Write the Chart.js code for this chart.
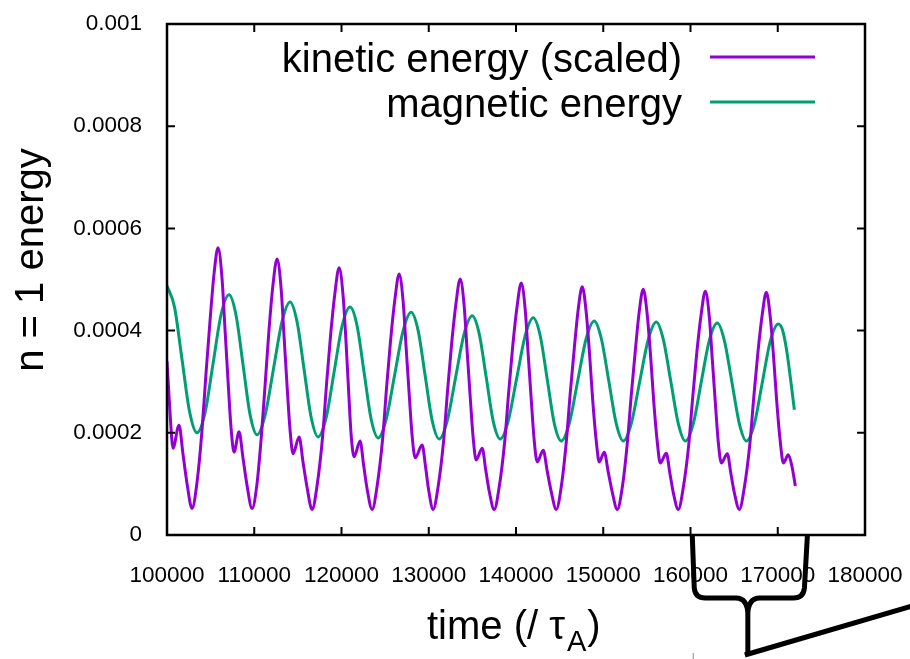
<!DOCTYPE html>
<html>
<head>
<meta charset="utf-8">
<script src="https://cdn.jsdelivr.net/npm/chart.js@4.4.1/dist/chart.umd.min.js"></script>
<style>
  html, body { margin: 0; padding: 0; background: #fff; }
  #wrap { width: 910px; height: 659px; position: relative; }
</style>
</head>
<body>
<div id="wrap"><canvas id="energyChart"></canvas></div>
<script>
// values (time in tau_A, energy)
const kineticTime = [
  100000, 100344, 100688, 101376, 101835, 102294, 102867,
  103440, 104014, 104473, 104931, 105390, 105849,
  106307, 106651, 106995, 107340, 107684, 108257, 108716, 109174, 109748,
  110321, 110837, 111296, 111697, 112156, 112615,
  113075, 113418, 113762, 114106, 114450, 115138, 115596, 116055, 116629,
  117202, 117833, 118291, 118750, 119266, 119725,
  120184, 120528, 120815, 121101, 121445, 122133, 122535, 122936, 123509,
  124083, 124714, 125172, 125631, 126147, 126606,
  127064, 127408, 127753, 128097, 128441, 129243, 129645, 129989, 130505,
  131078, 131709, 132168, 132626, 133142, 133601,
  134060, 134404, 134748, 135092, 135436, 136124, 136525, 136927, 137500,
  138074, 138705, 139163, 139622, 140138, 140597,
  141055, 141399, 141744, 142088, 142432, 143120, 143579, 144037, 144611,
  145184, 145757, 146216, 146675, 147133, 147592,
  148051, 148452, 148796, 149198, 149542, 150115, 150574, 151033, 151606,
  152179, 152753, 153212, 153670, 154129, 154588,
  155046, 155448, 155792, 156193, 156537, 157225, 157627, 158028, 158602,
  159175, 159806, 160265, 160723, 161239, 161698,
  162157, 162501, 162845, 163189, 163533, 164221, 164622, 165024, 165597,
  166170, 166801, 167260, 167719, 168235, 168694,
  169152, 169554, 169898, 170299, 170643, 171216, 171618, 172019
];
const kineticEnergy = [
  0.00034, 0.00024, 0.00017, 0.000215, 0.000158, 0.000101, 0.000052,
  0.000103, 0.000205, 0.000317, 0.000419, 0.000511, 0.000562,
  0.000502, 0.000402, 0.000302, 0.00021, 0.000162, 0.000202, 0.00015, 0.000097, 0.000052,
  0.000101, 0.000198, 0.000306, 0.000403, 0.000491, 0.00054,
  0.000483, 0.000388, 0.000292, 0.000205, 0.000159, 0.000192, 0.000142, 0.000093, 0.00005,
  0.000097, 0.000192, 0.000296, 0.000391, 0.000476, 0.000523,
  0.000468, 0.000375, 0.000283, 0.000197, 0.000153, 0.000184, 0.000137, 0.00009, 0.00005,
  0.000096, 0.000188, 0.00029, 0.000382, 0.000465, 0.000511,
  0.000457, 0.000367, 0.000277, 0.000194, 0.000151, 0.000176, 0.000132, 0.000088, 0.00005,
  0.000095, 0.000185, 0.000285, 0.000375, 0.000456, 0.000501,
  0.000448, 0.000359, 0.000271, 0.00019, 0.000147, 0.00017, 0.000128, 0.000086, 0.00005,
  0.000094, 0.000183, 0.00028, 0.000369, 0.000449, 0.000493,
  0.000441, 0.000353, 0.000266, 0.000185, 0.000143, 0.000166, 0.000125, 0.000085, 0.00005,
  0.000094, 0.000181, 0.000277, 0.000364, 0.000442, 0.000486,
  0.000435, 0.000349, 0.000263, 0.000184, 0.000143, 0.000162, 0.000123, 0.000084, 0.00005,
  0.000093, 0.000179, 0.000274, 0.00036, 0.000438, 0.000481,
  0.00043, 0.000345, 0.00026, 0.000182, 0.000141, 0.00016, 0.000122, 0.000083, 0.00005,
  0.000093, 0.000178, 0.000272, 0.000357, 0.000434, 0.000477,
  0.000427, 0.000343, 0.000259, 0.000181, 0.000141, 0.000159, 0.000121, 0.000083, 0.00005,
  0.000093, 0.000178, 0.000271, 0.000356, 0.000433, 0.000475,
  0.000425, 0.000341, 0.000258, 0.000181, 0.000141, 0.000157, 0.000135, 0.000096
];
const magneticTime = [
  100000, 100860, 101720, 102580, 103440, 104358, 105275, 106193, 107110,
  107913, 108716, 109518, 110321, 111239, 112213, 113188, 114106,
  114908, 115711, 116514, 117317, 118234, 119152, 120069, 120986,
  121789, 122592, 123395, 124197, 125115, 126090, 127064, 127982,
  128785, 129587, 130390, 131193, 132110, 133085, 134060, 134977,
  135780, 136583, 137386, 138188, 139106, 140081, 141055, 141973,
  142776, 143578, 144381, 145184, 146101, 147076, 148051, 148968,
  149771, 150631, 151491, 152294, 153212, 154186, 155161, 156079,
  156881, 157741, 158601, 159404, 160322, 161239, 162157, 163074,
  163877, 164737, 165597, 166400, 167317, 168235, 169152, 170069,
  170528, 170987, 171446, 171904
];
const magneticEnergy = [
  0.000488, 0.000446, 0.000344, 0.000242, 0.0002, 0.000239, 0.000335, 0.000431, 0.00047,
  0.00043, 0.000333, 0.000236, 0.000196, 0.000234, 0.000326, 0.000418, 0.000456,
  0.000417, 0.000324, 0.000231, 0.000192, 0.000229, 0.000319, 0.000409, 0.000446,
  0.000409, 0.000318, 0.000227, 0.00019, 0.000226, 0.000313, 0.0004, 0.000436,
  0.0004, 0.000312, 0.000224, 0.000188, 0.000223, 0.000309, 0.000394, 0.000429,
  0.000394, 0.000309, 0.000223, 0.000188, 0.000223, 0.000307, 0.00039, 0.000425,
  0.00039, 0.000305, 0.000219, 0.000184, 0.000218, 0.000302, 0.000385, 0.000419,
  0.000385, 0.000302, 0.000218, 0.000184, 0.000218, 0.000301, 0.000383, 0.000417,
  0.000383, 0.000301, 0.000218, 0.000184, 0.000218, 0.0003, 0.000381, 0.000415,
  0.000381, 0.0003, 0.000218, 0.000184, 0.000217, 0.000299, 0.00038, 0.000413,
  0.000402, 0.000365, 0.000308, 0.000245
];
const seriesNames = ["kinetic energy (scaled)", "magnetic energy"];
const xTickLabels = ["100000", "110000", "120000", "130000", "140000", "150000", "160000", "170000", "180000"];
const yTickLabels = ["0", "0.0002", "0.0004", "0.0006", "0.0008", "0.001"];
// span marked by the bracket under the axis
const bracketSpan = [160200, 173400];

const FONT = "'Liberation Sans', Arial, Helvetica, sans-serif";
Chart.defaults.font.family = FONT;
Chart.defaults.color = "#000";

function toPoints(xs, ys) {
  return xs.map((x, i) => ({ x: x, y: ys[i] }));
}

// box, inward ticks, legend, axis titles and the bracket
const decorations = {
  id: 'decorations',
  afterDatasetsDraw(chart) {
    const ctx = chart.ctx;
    const a = chart.chartArea;
    const xs = chart.scales.x, ys = chart.scales.y;
    ctx.save();
    ctx.strokeStyle = '#000';
    ctx.lineWidth = 2.5;
    ctx.strokeRect(a.left, a.top, a.right - a.left, a.bottom - a.top);
    ctx.lineWidth = 2;
    ctx.beginPath();
    xs.ticks.forEach(t => {
      const px = xs.getPixelForValue(t.value);
      ctx.moveTo(px, a.bottom); ctx.lineTo(px, a.bottom - 8);
      ctx.moveTo(px, a.top); ctx.lineTo(px, a.top + 8);
    });
    ys.ticks.forEach(t => {
      const py = ys.getPixelForValue(t.value);
      ctx.moveTo(a.left, py); ctx.lineTo(a.left + 8, py);
      ctx.moveTo(a.right, py); ctx.lineTo(a.right - 8, py);
    });
    ctx.stroke();

    // legend
    ctx.font = '40px ' + FONT;
    ctx.textAlign = 'right';
    ctx.textBaseline = 'alphabetic';
    chart.data.datasets.forEach((ds, i) => {
      const lineY = 57 + i * 45;
      ctx.fillStyle = '#000';
      ctx.fillText(ds.label, a.right - 183, lineY + 15);
      ctx.strokeStyle = ds.borderColor;
      ctx.lineWidth = ds.borderWidth;
      ctx.beginPath();
      ctx.moveTo(a.right - 155, lineY);
      ctx.lineTo(a.right - 50, lineY);
      ctx.stroke();
    });

    // y title
    ctx.fillStyle = '#000';
    ctx.save();
    ctx.translate(43, 260);
    ctx.rotate(-Math.PI / 2);
    ctx.textAlign = 'center';
    ctx.font = '40px ' + FONT;
    ctx.fillText('n = 1 energy', 0, 0);
    ctx.restore();

    // x title with subscript
    ctx.textAlign = 'left';
    let tx = 427;
    const base = 639;
    ctx.font = '40px ' + FONT;
    ctx.fillText('time (/ \u03c4', tx, base);
    tx += ctx.measureText('time (/ \u03c4').width + 2;
    ctx.font = '29px ' + FONT;
    ctx.fillText('A', tx, base + 12);
    tx += ctx.measureText('A').width + 1;
    ctx.font = '40px ' + FONT;
    ctx.fillText(')', tx, base);

    // bracket
    const xL = xs.getPixelForValue(bracketSpan[0]);
    const xR = xs.getPixelForValue(bracketSpan[1]);
    const xM = (xL + xR) / 2 - 2;
    const yH = 598, yTip = 655;
    ctx.strokeStyle = '#000';
    ctx.lineWidth = 5;
    ctx.lineJoin = 'round';
    ctx.lineCap = 'butt';
    ctx.beginPath();
    ctx.moveTo(xL, a.bottom);
    ctx.lineTo(xL + 2, yH - 10);
    ctx.quadraticCurveTo(xL + 3, yH, xL + 13, yH);
    ctx.lineTo(xM - 12, yH);
    ctx.quadraticCurveTo(xM, yH, xM, yH + 17);
    ctx.lineTo(xM, yTip);
    ctx.moveTo(xR, a.bottom);
    ctx.lineTo(xR - 3, yH - 10);
    ctx.quadraticCurveTo(xR - 4, yH, xR - 14, yH);
    ctx.lineTo(xM + 12, yH);
    ctx.quadraticCurveTo(xM, yH, xM, yH + 17);
    ctx.stroke();
    ctx.beginPath();
    ctx.moveTo(xM - 3, yTip);
    ctx.lineTo(xM + 212, yTip - 63);
    ctx.stroke();
    ctx.strokeStyle = '#888';
    ctx.lineWidth = 1;
    ctx.beginPath();
    ctx.moveTo(xL + 1, 653);
    ctx.lineTo(xL + 1, 659);
    ctx.stroke();
    ctx.restore();
  }
};

new Chart(document.getElementById('energyChart'), {
  type: 'line',
  data: {
    datasets: [{
      label: seriesNames[0],
      data: toPoints(kineticTime, kineticEnergy),
      borderColor: '#9400D3',
      borderWidth: 3,
      pointRadius: 0,
      cubicInterpolationMode: 'monotone',
      fill: false
    }, {
      label: seriesNames[1],
      data: toPoints(magneticTime, magneticEnergy),
      borderColor: '#009E73',
      borderWidth: 3,
      pointRadius: 0,
      cubicInterpolationMode: 'monotone',
      fill: false
    }]
  },
  options: {
    responsive: true,
    maintainAspectRatio: false,
    animation: false,
    layout: { padding: { top: 24, right: 45, left: 0, bottom: 0 } },
    plugins: {
      legend: { display: false },
      tooltip: { enabled: false }
    },
    scales: {
      x: {
        type: 'linear',
        min: 100000,
        max: 180000,
        afterFit: function(scale) {
          scale.height = 124;
          scale.paddingLeft = 0;
          scale.paddingRight = 0;
        },
        grid: { display: false, drawTicks: false },
        border: { display: false },
        ticks: {
          stepSize: 10000,
          padding: 27,
          maxRotation: 0,
          autoSkip: false,
          font: { size: 22.5 },
          callback: function(value, index) { return xTickLabels[index]; }
        }
      },
      y: {
        min: 0,
        max: 0.001,
        afterFit: function(scale) {
          scale.width = 167;
          scale.paddingTop = 0;
          scale.paddingBottom = 0;
        },
        grid: { display: false, drawTicks: false },
        border: { display: false },
        ticks: {
          stepSize: 0.0002,
          padding: 25,
          font: { size: 22.5 },
          callback: function(value, index) { return yTickLabels[index]; }
        }
      }
    }
  },
  plugins: [decorations]
});
</script>
</body>
</html>
